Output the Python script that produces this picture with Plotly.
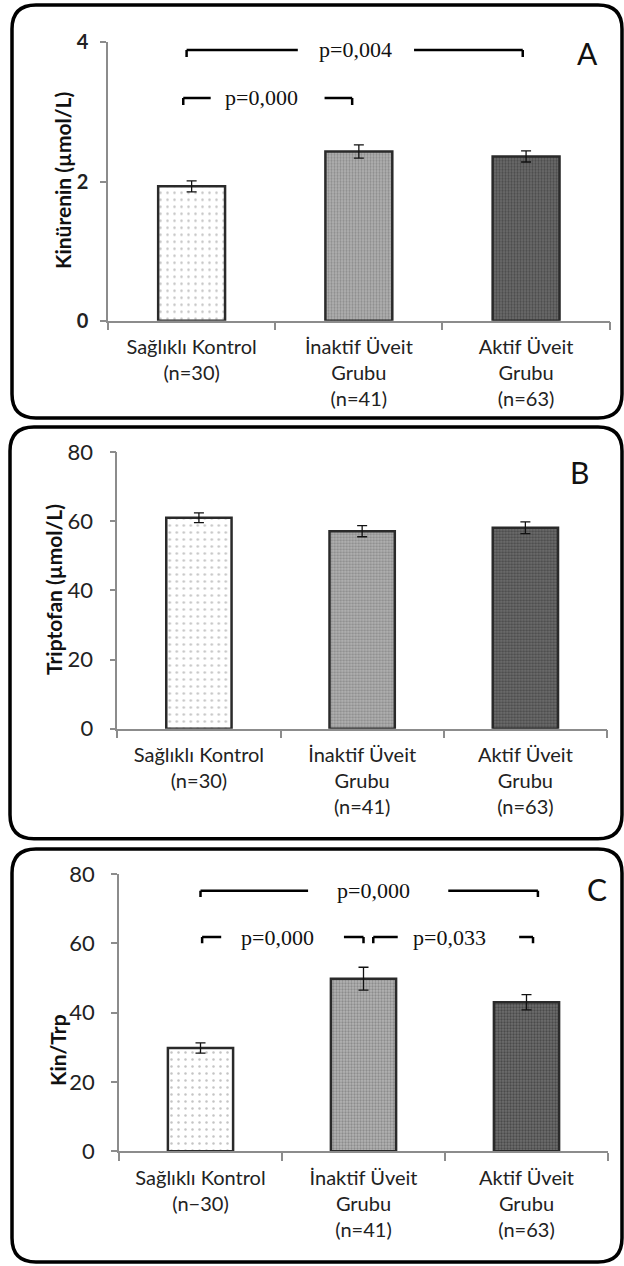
import plotly.graph_objects as go

W, H = 624, 1266

# ---------------- data ----------------
labels_AB = ["Sağlıklı Kontrol<br>(n=30)", "İnaktif Üveit<br>Grubu<br>(n=41)", "Aktif Üveit<br>Grubu<br>(n=63)"]
labels_C = ["Sağlıklı Kontrol<br>(n−30)", "İnaktif Üveit<br>Grubu<br>(n=41)", "Aktif Üveit<br>Grubu<br>(n=63)"]
positions = [0, 1, 2]

kinurenin = [1.93, 2.43, 2.36]
kinurenin_err = [0.08, 0.095, 0.08]
triptofan = [61.0, 57.1, 58.1]
triptofan_err = [1.4, 1.6, 1.7]
kin_trp = [29.8, 49.8, 43.0]
kin_trp_err = [1.5, 3.3, 2.2]

yticks_A = [0, 2, 4]
yticks_BC = [0, 20, 40, 60, 80]

titles = ["Kinürenin (µmol/L)", "Triptofan (µmol/L)", "Kin/Trp"]
panel_letters = ["A", "B", "C"]

# significance brackets: (x_left, x_right, y, gap_left, gap_right, text_x, text)
brackets_A = [(-0.03, 1.98, 3.89, 0.635, 1.33, 0.98, "p=0,004"),
              (-0.05, 0.96, 3.20, 0.114, 0.795, 0.42, "p=0,000")]
brackets_C = [(0.0, 2.07, 75.2, 0.66, 1.52, 1.06, "p=0,000"),
              (0.01, 1.0, 61.8, 0.127, 0.88, 0.47, "p=0,000"),
              (1.06, 2.04, 61.8, 1.21, 1.955, 1.53, "p=0,033")]

# ---------------- geometry (pixels) ----------------
panels = [
    dict(x0=108, x1=609.7, y0px=320.7, y1px=42.3, ymax=4, border=(12, 5, 622, 418),
         title_xy=(62, 180), letter_xy=(587, 53)),
    dict(x0=117.3, x1=607, y0px=728.7, y1px=452, ymax=80, border=(10, 427, 622, 838.7),
         title_xy=(53, 590), letter_xy=(579, 472)),
    dict(x0=119, x1=608, y0px=1151.3, y1px=874, ymax=80, border=(12, 849, 622, 1262),
         title_xy=(57, 1050), letter_xy=(597, 889)),
]

def px(x):
    return x / W

def py(y):
    return 1 - y / H

# per-group bar styles (base colour, dot colour, dot spacing, solidity)
bar_styles = [
    dict(color="#ffffff", fg="#c4c4c4", size=7, solidity=0.1),
    dict(color="#b4b4b4", fg="#8c8c8c", size=3, solidity=0.45),
    dict(color="#6e6e6e", fg="#4a4a4a", size=3, solidity=0.45),
]

fig = go.Figure()
series = [(kinurenin, kinurenin_err, labels_AB), (triptofan, triptofan_err, labels_AB), (kin_trp, kin_trp_err, labels_C)]

LAB_FONT = "Lato"
for i, ((vals, errs, labs), p) in enumerate(zip(series, panels), start=1):
    xa = "x" if i == 1 else f"x{i}"
    ya = "y" if i == 1 else f"y{i}"
    for k, st in enumerate(bar_styles):
        fig.add_trace(go.Bar(
            x=[positions[k]], y=[vals[k]], width=0.4, xaxis=xa, yaxis=ya,
            marker=dict(color=st["color"],
                        pattern=dict(shape=".", fgcolor=st["fg"], size=st["size"],
                                     solidity=st["solidity"], fillmode="overlay", fgopacity=1),
                        line=dict(color="#2a2a2a", width=2.5)),
            error_y=dict(type="data", array=[errs[k]], visible=True, color="#111111",
                         thickness=1.3, width=5),
            hoverinfo="skip",
        ))
    axis_key = "" if i == 1 else str(i)
    fig.layout["xaxis" + axis_key] = dict(
        domain=[px(p["x0"]), px(p["x1"])], anchor=ya, range=[-0.5, 2.5], automargin=False,
        tickmode="array", tickvals=positions, ticktext=labs, ticks="",
        showline=True, linecolor="#8c8c8c", linewidth=1.5, showgrid=False, zeroline=False,
        tickfont=dict(family=LAB_FONT, size=20, color="#222222"),
        ticklabelstandoff=8,
        minor=dict(tickvals=[-0.5, 0.5, 1.5, 2.5], ticks="outside", ticklen=8,
                   tickcolor="#8c8c8c", tickwidth=1.5),
    )
    yt = yticks_A if i == 1 else yticks_BC
    fig.layout["yaxis" + axis_key] = dict(
        domain=[py(p["y0px"]), py(p["y1px"])], anchor=xa, range=[0, p["ymax"]], automargin=False,
        tickmode="array", tickvals=yt, ticks="outside", ticklen=6,
        tickcolor="#8c8c8c", tickwidth=1.5,
        showline=True, linecolor="#8c8c8c", linewidth=1.5, showgrid=False, zeroline=False,
        tickfont=dict(family=LAB_FONT, size=22 if i > 1 else 20, color="#222222",
                      weight="bold" if i == 1 else "normal"),
        ticklabelstandoff=8 if i == 1 else 12,
    )
    # y title
    tx, ty = p["title_xy"]
    fig.add_annotation(x=px(tx), y=py(ty), xref="paper", yref="paper", text="<b>%s</b>" % titles[i - 1],
                       textangle=-90, showarrow=False, xanchor="center", yanchor="middle",
                       font=dict(family=LAB_FONT, size=21, color="#111111"))
    # panel letter
    lx, ly = p["letter_xy"]
    fig.add_annotation(x=px(lx), y=py(ly), xref="paper", yref="paper", text=panel_letters[i - 1],
                       showarrow=False, xanchor="center", yanchor="middle",
                       font=dict(family=LAB_FONT, size=30, color="#111111"))
    # rounded border
    bx0, by0, bx1, by1 = p["border"]
    r = 24
    rx, ry = r / W, r / H
    X0, X1 = px(bx0), px(bx1)
    Y0, Y1 = py(by1), py(by0)  # bottom, top in paper
    path = (f"M {X0+rx},{Y1} L {X1-rx},{Y1} Q {X1},{Y1} {X1},{Y1-ry} "
            f"L {X1},{Y0+ry} Q {X1},{Y0} {X1-rx},{Y0} "
            f"L {X0+rx},{Y0} Q {X0},{Y0} {X0},{Y0+ry} "
            f"L {X0},{Y1-ry} Q {X0},{Y1} {X0+rx},{Y1} Z")
    fig.add_shape(type="path", path=path, xref="paper", yref="paper",
                  line=dict(color="#000000", width=3.5), fillcolor="rgba(0,0,0,0)")

# brackets
def add_brackets(brs, xa, ya, drop):
    for (xl, xr, y, gl, gr, tx, txt) in brs:
        for (a, b, tick_at) in [(xl, gl, xl), (gr, xr, xr)]:
            fig.add_shape(type="line", x0=a, x1=b, y0=y, y1=y, xref=xa, yref=ya,
                          line=dict(color="#000000", width=2.5))
            fig.add_shape(type="line", x0=tick_at, x1=tick_at, y0=y, y1=y - drop, xref=xa, yref=ya,
                          line=dict(color="#000000", width=2.5))
        fig.add_annotation(x=tx, y=y, xref=xa, yref=ya, text=txt, showarrow=False,
                           xanchor="center", yanchor="middle",
                           font=dict(family="Liberation Serif", size=22, color="#111111"))

add_brackets(brackets_A, "x", "y", 0.1)
add_brackets(brackets_C, "x3", "y3", 1.8)

fig.update_layout(width=W, height=H, margin=dict(l=0, r=0, t=0, b=0, pad=0, autoexpand=False),
                  paper_bgcolor="white", plot_bgcolor="white", showlegend=False,
                  barmode="overlay")

fig.write_html("out.html")
